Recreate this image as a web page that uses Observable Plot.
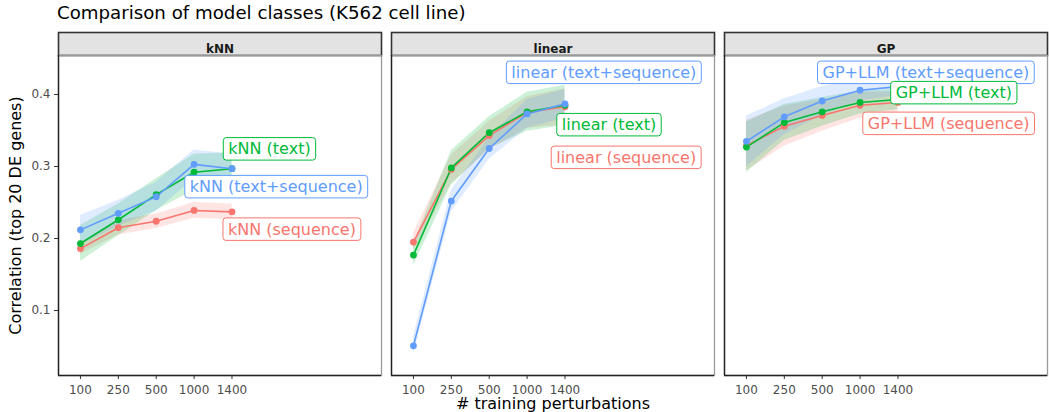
<!DOCTYPE html>
<html><head><meta charset="utf-8">
<script src="https://cdn.jsdelivr.net/npm/d3@7"></script>
<script src="https://cdn.jsdelivr.net/npm/@observablehq/plot@0.6"></script>
<style>
body{margin:0;background:#fff;font-family:"DejaVu Sans",sans-serif;}
#title{height:26px;padding-left:57px;font-size:18.2px;line-height:26px;color:#000;white-space:nowrap;}
</style></head><body>
<div id="title">Comparison of model classes (K562 cell line)</div>
<div id="chart"></div>
<script>
// ---- data ----
const models = ["kNN", "linear", "GP"];
const labelPrefix = ["kNN", "linear", "GP+LLM"];
const features = ["sequence", "text", "text+sequence"];
const xLabels = ["100", "250", "500", "1000", "1400"];
const colors = ["#F8766D", "#00BA38", "#619CFF"];

const kNN_sequence       = [0.186, 0.215, 0.224, 0.239, 0.237];
const kNN_sequence_err   = [0.008, 0.010, 0.010, 0.011, 0.011];
const kNN_text           = [0.193, 0.226, 0.261, 0.292, 0.297];
const kNN_text_err       = [0.025, 0.022, 0.022, 0.025, 0.022];
const kNN_textseq        = [0.212, 0.235, 0.258, 0.303, 0.297];
const kNN_textseq_err    = [0.020, 0.018, 0.020, 0.020, 0.020];

const linear_sequence     = [0.195, 0.296, 0.343, 0.375, 0.383];
const linear_sequence_err = [0.012, 0.020, 0.020, 0.022, 0.025];
const linear_text         = [0.177, 0.298, 0.347, 0.376, 0.385];
const linear_text_err     = [0.015, 0.024, 0.022, 0.027, 0.028];
const linear_textseq      = [0.051, 0.252, 0.325, 0.373, 0.387];
const linear_textseq_err  = [0.012, 0.015, 0.015, 0.020, 0.020];

const GP_sequence     = [0.329, 0.356, 0.371, 0.385, 0.389];
const GP_sequence_err = [0.035, 0.028, 0.022, 0.018, 0.015];
const GP_text         = [0.327, 0.361, 0.376, 0.389, 0.393];
const GP_text_err     = [0.035, 0.025, 0.020, 0.016, 0.014];
const GP_textseq      = [0.335, 0.369, 0.391, 0.406, 0.411];
const GP_textseq_err  = [0.035, 0.025, 0.020, 0.015, 0.012];

// label anchors (x in training-size index units, y in correlation units)
const labelModel   = ["kNN", "kNN", "kNN", "linear", "linear", "linear", "GP", "GP", "GP"];
const labelFeature = ["sequence", "text+sequence", "text", "sequence", "text+sequence", "text", "sequence", "text+sequence", "text"];
const labelX       = [4.763, 3.755, 4.771, 4.637, 3.453, 4.784, 4.071, 2.876, 4.808];
const labelY       = [0.2125, 0.2715, 0.324, 0.3122, 0.4303, 0.3576, 0.3594, 0.4303, 0.4021];

// ---- build table ----
const series = {
  kNN:    [[kNN_sequence, kNN_sequence_err], [kNN_text, kNN_text_err], [kNN_textseq, kNN_textseq_err]],
  linear: [[linear_sequence, linear_sequence_err], [linear_text, linear_text_err], [linear_textseq, linear_textseq_err]],
  GP:     [[GP_sequence, GP_sequence_err], [GP_text, GP_text_err], [GP_textseq, GP_textseq_err]]
};
const rows = [];
for (const m of models) {
  series[m].forEach(([vals, errs], fi) => {
    vals.forEach((v, i) => rows.push({model: m, feature: features[fi], x: i + 1, y: v, lo: v - errs[i], hi: v + errs[i]}));
  });
}
const labels = labelModel.map((m, i) => ({
  model: m, feature: labelFeature[i], x: labelX[i], y: labelY[i],
  text: `${labelPrefix[models.indexOf(m)]} (${labelFeature[i]})`
}));

const plotH = 320;
const pad = 5;
const svg = Plot.plot({
  width: 1049, height: 386,
  marginLeft: 57, marginRight: 1, marginTop: 29, marginBottom: 37,
  style: {fontFamily: "DejaVu Sans, sans-serif", background: "#fff"},
  fx: {domain: models, paddingInner: 0.0286, paddingOuter: 0, axis: null, label: null},
  x: {domain: [0.421, 8.947], axis: null},
  y: {domain: [0.00972, 0.4542], axis: null},
  color: {domain: features, range: colors},
  marks: [
    Plot.frame({fill: "#e3e3e3", stroke: "#333", strokeWidth: 1.6, insetTop: -23, insetBottom: plotH}),
    Plot.text(models, {fx: d => d, text: d => d, frameAnchor: "top", dy: -11.5, fontWeight: "bold", fontSize: 12, fill: "#1a1a1a"}),
    Plot.frame({stroke: "#999", strokeWidth: 1.3}),
    Plot.axisX({ticks: [1, 2, 3, 4, 5], tickFormat: d => xLabels[d - 1], tickSize: 4, tickPadding: 6, fontSize: 12, fill: "#4d4d4d", stroke: "#333", label: null}),
    Plot.axisY({ticks: [0.1, 0.2, 0.3, 0.4], tickFormat: ".1f", tickSize: 4, tickPadding: 4, fontSize: 12, fill: "#4d4d4d", stroke: "#333", label: null}),
    Plot.areaY(rows, {fx: "model", x: "x", y1: "lo", y2: "hi", z: "feature", fill: "feature", fillOpacity: 0.2}),
    Plot.line(rows, {fx: "model", x: "x", y: "y", z: "feature", stroke: "feature", strokeWidth: 1.6}),
    Plot.dot(rows, {fx: "model", x: "x", y: "y", fill: "feature", r: 3.4}),
    Plot.ruleX([0.421], {stroke: "#222", strokeWidth: 1.4}),
    Plot.ruleY([0.00972], {stroke: "#222", strokeWidth: 1.4}),
    Plot.text(labels, {fx: "model", x: "x", y: "y", text: "text", fill: "feature", textAnchor: "start", dx: pad, fontSize: 16, ariaDescription: "series-label", className: "series-label"}),
    Plot.text(["Correlation (top 20 DE genes)"], {fx: () => "kNN", text: d => d, frameAnchor: "left", textAnchor: "middle", lineAnchor: "middle", dx: -42.5, rotate: -90, fontSize: 16, fill: "#000"}),
    Plot.text(["# training perturbations"], {fx: () => "linear", text: d => d, frameAnchor: "bottom", textAnchor: "middle", lineAnchor: "middle", dy: 28, fontSize: 16, fill: "#000"})
  ]
});
document.getElementById("chart").append(svg);

// label boxes (ggrepel-style)
const labelTexts = new Set(labels.map(d => d.text));
d3.select(svg).selectAll("text").each(function () {
  if (!labelTexts.has(this.textContent)) return;
  const b = this.getBBox();
  const col = this.getAttribute("fill") || this.parentNode.getAttribute("fill");
  const r = document.createElementNS("http://www.w3.org/2000/svg", "rect");
  const h = 22.5;
  r.setAttribute("x", b.x - pad);
  r.setAttribute("y", b.y + b.height / 2 - h / 2);
  r.setAttribute("width", b.width + 2 * pad);
  r.setAttribute("height", h);
  r.setAttribute("rx", 3);
  r.setAttribute("fill", "#fff");
  r.setAttribute("stroke", col);
  r.setAttribute("stroke-width", 1);
  const t = this.getAttribute("transform");
  if (t) r.setAttribute("transform", t);
  this.parentNode.insertBefore(r, this);
});
</script>
</body></html>
